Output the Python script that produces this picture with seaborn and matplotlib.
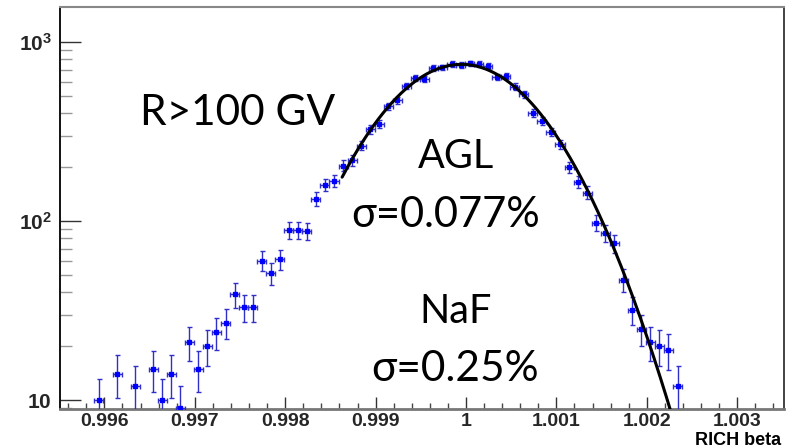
import numpy as np
import pandas as pd
import matplotlib
matplotlib.use("Agg")
import matplotlib.pyplot as plt
import seaborn as sns
from matplotlib.ticker import FixedLocator, MultipleLocator, NullFormatter, LogLocator

# ---------------- data ----------------
beta = [0.99594, 0.99614, 0.99634,
        0.99654, 0.99664, 0.99674, 0.99684, 0.99694, 0.99704, 0.99714, 0.99724,
        0.99734, 0.99744, 0.99754, 0.99764, 0.99774, 0.99784, 0.99794, 0.99804,
        0.99814, 0.99824, 0.99834, 0.99844, 0.99854, 0.99864, 0.99874, 0.99884,
        0.99894, 0.99904, 0.99914, 0.99924, 0.99934, 0.99944, 0.99954, 0.99964,
        0.99974, 0.99984, 0.99994, 1.00004, 1.00014, 1.00024, 1.00034, 1.00044,
        1.00054, 1.00064, 1.00074, 1.00084, 1.00094, 1.00104, 1.00114, 1.00124,
        1.00134, 1.00144, 1.00154, 1.00164, 1.00174, 1.00184, 1.00194, 1.00204,
        1.00214, 1.00224, 1.00234]
counts = [10, 14, 12,
          15, 10, 14, 9, 21, 15, 20, 24,
          27, 39, 33, 33, 60, 51, 61, 89,
          89, 88, 133, 159, 167, 204, 219, 264,
          325, 348, 438, 472, 570, 627, 621, 713,
          721, 754, 745, 760, 752, 738, 640, 648,
          563, 510, 403, 362, 315, 268, 200, 166,
          144, 98, 86, 75, 47, 32, 25, 21,
          20, 19, 12]
bin_half_width = 0.00005

# Gaussian fit parameters (AGL)
fit_amp = 750.0
fit_mean = 0.99995
fit_sigma = 0.000775
fit_start = 0.99863
fit_stop = 1.0026

x_major_ticks = [0.996, 0.997, 0.998, 0.999, 1.0, 1.001, 1.002, 1.003]
x_tick_labels = ["0.996", "0.997", "0.998", "0.999", "1", "1.001", "1.002", "1.003"]
y_major_ticks = [10, 100, 1000]
y_tick_labels = [r"$\mathbf{10}$", r"$\mathbf{10^{2}}$", r"$\mathbf{10^{3}}$"]
x_label = "RICH beta"
annotations = ["R>100 GV", "AGL", "σ=0.077%", "NaF", "σ=0.25%"]

# ---------------- style ----------------
sns.set_theme(style="white")
plt.rcParams["font.family"] = ["Liberation Sans", "DejaVu Sans"]
plt.rcParams["mathtext.fontset"] = "custom"
plt.rcParams["mathtext.bf"] = "Liberation Sans:bold"
plt.rcParams["mathtext.rm"] = "Liberation Sans"

W, H = 792, 448
fig = plt.figure(figsize=(W / 100, H / 100), dpi=100)
fig.patch.set_facecolor("white")
ax = fig.add_axes([60 / W, 1 - 409 / H, 724 / W, 402 / H])
ax.set_facecolor("white")

# fit curve
fx = np.linspace(fit_start, fit_stop, 500)
fy = fit_amp * np.exp(-0.5 * ((fx - fit_mean) / fit_sigma) ** 2)
fit_df = pd.DataFrame({"beta": fx, "counts": fy})
sns.lineplot(data=fit_df, x="beta", y="counts", ax=ax, color="black",
             linewidth=2.2, zorder=4, sort=True)

# data points with error bars
data_df = pd.DataFrame({"beta": beta, "counts": counts})
ax.errorbar(data_df["beta"], data_df["counts"], xerr=bin_half_width,
            yerr=np.sqrt(data_df["counts"]), fmt="s", ms=3.4,
            mfc="#0000ff", mec="#0000ff", ecolor="#3030c8",
            elinewidth=1.0, capsize=1.8, capthick=1.0, zorder=3)

ax.set_yscale("log")
ax.set_xlim(0.995509, 1.003518)
ax.set_ylim(8.91, 1569)
ax.set_xlabel("")
ax.set_ylabel("")

ax.xaxis.set_major_locator(FixedLocator(x_major_ticks))
ax.set_xticklabels(x_tick_labels, fontweight="bold", fontsize=14)
ax.xaxis.set_minor_locator(MultipleLocator(0.0002))
ax.set_yticks(y_major_ticks)
ax.set_yticklabels(y_tick_labels, fontsize=15)
ax.yaxis.set_minor_locator(LogLocator(base=10, subs=np.arange(2, 10)))
ax.yaxis.set_minor_formatter(NullFormatter())

ax.tick_params(axis="x", which="major", direction="in", length=8.5, width=1.0,
               color="#333333", pad=3, bottom=True, top=False)
ax.tick_params(axis="x", which="minor", direction="in", length=4.3, width=1.0,
               color="#444444", bottom=True, top=False)
ax.tick_params(axis="y", which="major", direction="in", length=15, width=1.0,
               color="#333333", pad=6, left=True, right=False)
ax.tick_params(axis="y", which="minor", direction="in", length=8.6, width=1.0,
               color="#999999", left=True, right=False)

for side, col, lw in [("left", "#111111", 1.4), ("bottom", "#777777", 2.0),
                      ("top", "#888888", 1.5), ("right", "#222222", 1.2)]:
    ax.spines[side].set_visible(True)
    ax.spines[side].set_color(col)
    ax.spines[side].set_linewidth(lw)

fig.text(781 / W, 1 - 444.5 / H, x_label, ha="right", va="baseline",
         fontsize=13, fontweight="bold", color="black")

big = ["Lato", "DejaVu Sans"]
def ptext(x, y, s, size, ha="left"):
    fig.text(x / W, 1 - y / H, s, ha=ha, va="baseline", fontsize=size,
             family=big, color="black")

ptext(140, 125, annotations[0], 30.5, ha="left")
ptext(456, 168, annotations[1], 28.5, ha="center")
ptext(446, 226.7, annotations[2], 30, ha="center")
ptext(456, 323.3, annotations[3], 28.5, ha="center")
ptext(455.5, 381, annotations[4], 30.5, ha="center")

fig.savefig("out.png", dpi=100, facecolor="white")
